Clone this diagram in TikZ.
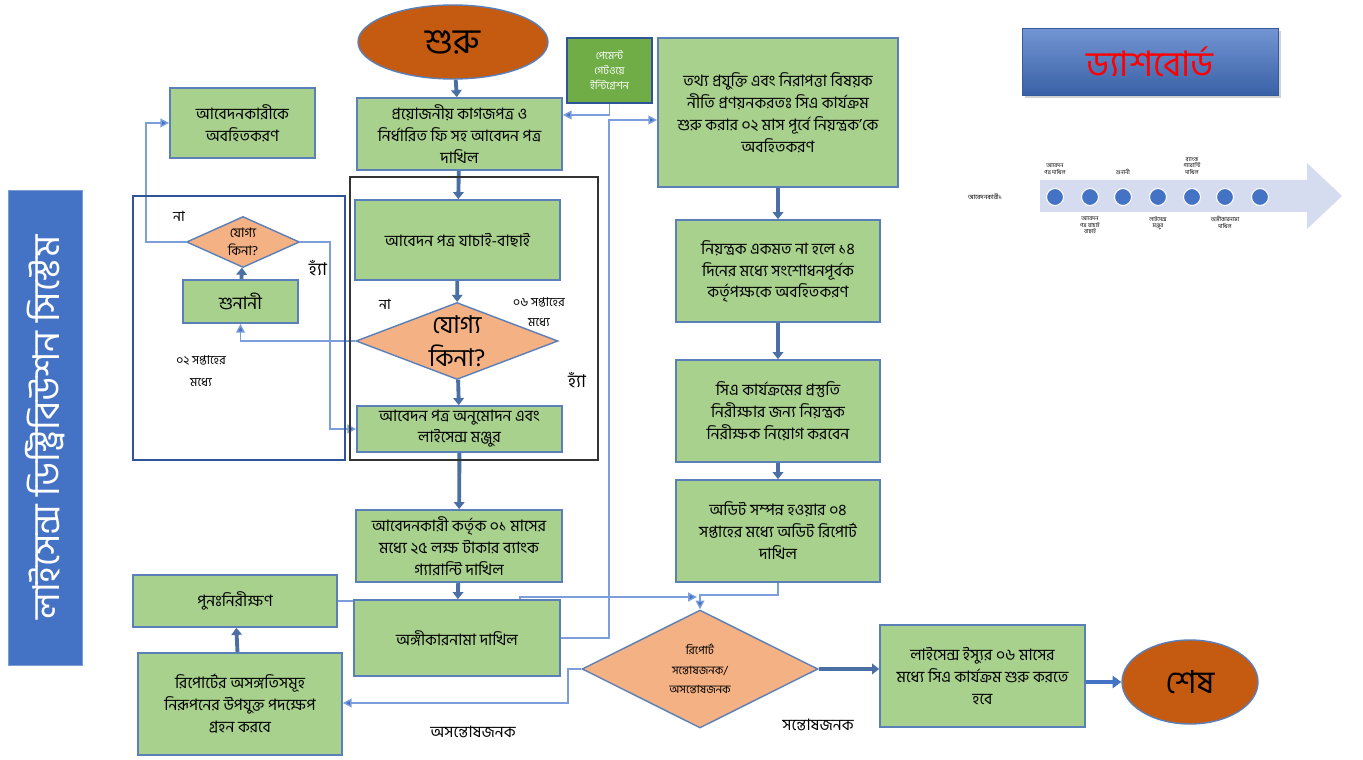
\documentclass[tikz,border=0pt]{standalone}
\usepackage{fontspec}
\setmainfont[Script=Bengali]{Hind Siliguri}
\usetikzlibrary{shapes.geometric,arrows.meta,shadows}
\definecolor{boxgreen}{HTML}{A9D18E}
\definecolor{darkgreen}{HTML}{70AD47}
\definecolor{boxborder}{HTML}{5B7FB8}
\definecolor{diafill}{HTML}{F4B183}
\definecolor{ellfill}{HTML}{C55A11}
\definecolor{thickarrow}{HTML}{4A6FA5}
\definecolor{thinline}{HTML}{7C9FDB}
\definecolor{tipblue}{HTML}{4472C4}
\definecolor{titleblue}{HTML}{4472C4}
\definecolor{outerblue}{HTML}{2F5597}
\definecolor{tlarrow}{HTML}{D6DCEF}
\pgfdeclarelayer{background}
\pgfdeclarelayer{paper}
\pgfsetlayers{paper,background,main}
\tikzset{
  box/.style={draw=boxborder, line width=1pt, fill=boxgreen, align=center, inner sep=2pt,
    font=\fontsize{9}{12.5}\selectfont},
  dia/.style={diamond, draw=boxborder, line width=0.8pt, fill=diafill, inner sep=0pt},
  ell/.style={ellipse, draw=boxborder, line width=0.8pt, fill=ellfill, inner sep=0pt},
  thick arrow/.style={draw=thickarrow, line width=2.2pt, -{Triangle[length=4pt,width=6pt]}},
  thin arrow/.style={draw=thinline, line width=0.8pt, -{Triangle[length=5pt,width=5pt,fill=tipblue]}},
  thin line/.style={draw=thinline, line width=0.8pt},
  lbl/.style={align=center, inner sep=0pt},
  tl/.style={align=center, inner sep=0pt, font=\fontsize{3.2}{3.8}\selectfont},
  dot/.style={circle, fill=tipblue, draw=white, line width=0.6pt, minimum size=0.34cm, inner sep=0pt}
}
\begin{document}
\begin{tikzpicture}[x=0.02cm,y=-0.02cm]
\useasboundingbox (0,0) rectangle (1363,760);
\begin{pgfonlayer}{paper}
\fill[white] (0,0) rectangle (1363,760);
\end{pgfonlayer}

% frames
\draw[outerblue, line width=0.9pt] (133,196) rectangle (345,460);
\draw[black!80, line width=1.1pt] (350,177) rectangle (598,460);

% title bar
\node[draw=titleblue!70, fill=titleblue, rotate=90, minimum width=9.5cm, minimum height=1.48cm,
  text=white, font=\fontsize{21}{24}\selectfont, inner sep=0pt] (vtitle) at (45,427.5) {লাইসেন্স ডিস্ট্রিবিউশন সিস্টেম};

% dashboard
\node[top color=titleblue!75!white, bottom color=titleblue!85!black, draw=titleblue!80!black, line width=0.4pt,
  drop shadow={shadow xshift=1.5pt, shadow yshift=-1.5pt, opacity=0.35},
  minimum width=5.12cm, minimum height=1.34cm, text=red, font=\fontsize{20}{24}\selectfont] (dash) at (1150,61.5) {ড্যাশবোর্ড};

% timeline
\fill[tlarrow] (1040,180) -- (1307,180) -- (1307,163) -- (1342,196) -- (1307,229) -- (1307,212) -- (1040,212) -- cycle;
\node[lbl, font=\fontsize{3.6}{4.2}\selectfont] (tlname) at (985,197) {আবেদনকারী১};
\foreach \i/\x in {1/1055,2/1090,3/1123,4/1158,5/1192,6/1225,7/1260}{
  \node[dot] (d\i) at (\x,197) {};
}
\node[tl, anchor=south] (t1) at (1055,175) {আবেদন\\পত্র দাখিল};
\node[tl, anchor=north] (t2) at (1090,216) {আবেদন\\পত্র যাচাই\\বাছাই};
\node[tl, anchor=south] (t3) at (1123,175) {শুনানী};
\node[tl, anchor=north] (t4) at (1158,216) {লাইসেন্স\\মঞ্জুর};
\node[tl, anchor=south] (t5) at (1192,175) {ব্যাংক\\গ্যারান্টি\\দাখিল};
\node[tl, anchor=north] (t6) at (1225,216) {অঙ্গীকারনামা\\দাখিল};

% main nodes
\node[ell, minimum width=3.8cm, minimum height=1.48cm, font=\fontsize{20}{24}\selectfont] (start) at (453,42) {শুরু};
\node[draw=outerblue, line width=0.9pt, fill=darkgreen, text=white, align=center, inner sep=1pt,
  minimum width=1.7cm, minimum height=1.3cm, font=\fontsize{6}{8.5}\selectfont] (pay) at (609.5,70.5) {পেমেন্ট\\গেটওয়ে\\ইন্টিগ্রেশন};
\node[box, minimum width=4.1cm, minimum height=1.44cm] (docs) at (459.5,134) {প্রয়োজনীয় কাগজপত্র ও\\নির্ধারিত ফি সহ আবেদন পত্র\\দাখিল};
\node[box, minimum width=4.8cm, minimum height=2.98cm] (policy) at (778,112.5) {তথ্য প্রযুক্তি এবং নিরাপত্তা বিষয়ক\\নীতি প্রণয়নকরতঃ  সিএ কার্যক্রম\\শুরু করার ০২ মাস পূর্বে নিয়ন্ত্রক'কে\\অবহিতকরণ};
\node[box, minimum width=2.9cm, minimum height=1.4cm] (notify) at (242.5,123) {আবেদনকারীকে\\অবহিতকরণ};
\node[box, minimum width=4.1cm, minimum height=1.6cm] (verify) at (457.5,240) {আবেদন পত্র যাচাই-বাছাই};
\node[dia, minimum width=4.04cm, minimum height=1.54cm] (bigd) at (457,341) {};
\node[lbl, font=\fontsize{14}{19}\selectfont] (bigdt) at (bigd) {যোগ্য\\কিনা?};
\node[box, minimum width=4.1cm, minimum height=0.92cm, font=\fontsize{9}{11.5}\selectfont] (approve) at (459.5,429) {আবেদন পত্র অনুমোদন এবং\\লাইসেন্স মঞ্জুর};
\node[dia, minimum width=2.26cm, minimum height=1.02cm] (smalld) at (243,242) {};
\node[lbl, font=\fontsize{7.5}{10}\selectfont] (smalldt) at (smalld) {যোগ্য\\কিনা?};
\node[box, minimum width=2.3cm, minimum height=0.86cm, font=\fontsize{10}{12}\selectfont] (hearing) at (240.5,301.5) {শুনানী};
\node[box, minimum width=4.08cm, minimum height=2.04cm] (box2) at (778,271) {নিয়ন্ত্রক একমত না হলে ১৪\\দিনের মধ্যে সংশোধনপূর্বক\\কর্তৃপক্ষকে অবহিতকরণ};
\node[box, minimum width=4.08cm, minimum height=2.04cm] (box3) at (778,411) {সিএ কার্যক্রমের প্রস্তুতি\\নিরীক্ষার জন্য নিয়ন্ত্রক\\নিরীক্ষক নিয়োগ করবেন};
\node[box, minimum width=4.08cm, minimum height=2.04cm] (box4) at (778,531) {অডিট সম্পন্ন হওয়ার ০৪\\সপ্তাহের মধ্যে অডিট রিপোর্ট\\দাখিল};
\node[box, minimum width=4.12cm, minimum height=1.44cm] (bank) at (459,546) {আবেদনকারী কর্তৃক ০১ মাসের\\মধ্যে ২৫ লক্ষ টাকার ব্যাংক\\গ্যারান্টি দাখিল};
\node[box, minimum width=4.12cm, minimum height=1.52cm] (agree) at (457,638) {অঙ্গীকারনামা দাখিল};
\node[box, minimum width=4.08cm, minimum height=1.04cm] (punh) at (235,601) {পুনঃনিরীক্ষণ};
\node[box, minimum width=4.08cm, minimum height=2.04cm] (rep) at (240,704) {রিপোর্টের অসঙ্গতিসমূহ\\নিরূপনের উপযুক্ত পদক্ষেপ\\গ্রহন করবে};
\node[dia, minimum width=4.72cm, minimum height=2.36cm] (repd) at (700,669) {};
\node[lbl, font=\fontsize{6.5}{11}\selectfont] (repdt) at (repd) {রিপোর্ট\\সন্তোষজনক/\\অসন্তোষজনক};
\node[box, minimum width=4.1cm, minimum height=2.04cm] (lic) at (982.5,676) {লাইসেন্স ইস্যুর ০৬ মাসের\\মধ্যে সিএ কার্যক্রম শুরু করতে\\হবে};
\node[ell, minimum width=2.72cm, minimum height=1.68cm, font=\fontsize{18}{22}\selectfont] (end) at (1190,682) {শেষ};

% labels
\node[lbl, font=\fontsize{8}{10}\selectfont] (l1) at (179,216) {না};
\node[lbl, font=\fontsize{10}{12}\selectfont] (l2) at (318,268) {হ্যাঁ};
\node[lbl, font=\fontsize{7}{12.5}\selectfont] (l3) at (201,371) {০২ সপ্তাহের\\মধ্যে};
\node[lbl, font=\fontsize{8}{10}\selectfont] (l4) at (385,304) {না};
\node[lbl, font=\fontsize{7}{11}\selectfont] (l5) at (539,312) {০৬ সপ্তাহের\\মধ্যে};
\node[lbl, font=\fontsize{10}{12}\selectfont] (l6) at (577,380) {হ্যাঁ};
\node[lbl, font=\fontsize{9}{11}\selectfont] (l7) at (473,732) {অসন্তোষজনক};
\node[lbl, font=\fontsize{9}{11}\selectfont] (l8) at (818,725) {সন্তোষজনক};

% connectors
\begin{pgfonlayer}{background}
\draw[thick arrow] (start) -- (docs);
\draw[thick arrow] (docs) -- (verify);
\draw[thick arrow] (verify) -- (bigd);
\draw[thick arrow] (bigd) -- (approve);
\draw[thick arrow] (approve) -- (bank);
\draw[thick arrow] (bank) -- (agree);
\draw[thick arrow] (hearing) -- (smalld);
\draw[thick arrow] (rep) -- (punh);
\draw[thick arrow] (policy) -- (box2);
\draw[thick arrow] (box2) -- (box3);
\draw[thick arrow] (box3) -- (box4);
\draw[thick arrow] (repd.east) -- (repd.east -| lic.west);
\draw[draw=tipblue, line width=2.6pt, -{Triangle[length=5pt,width=7pt]}] (lic.east |- end) -- (end.west);

\draw[thin arrow] (pay.south) |- (docs.east |- 0,115);
\draw[thin arrow] (agree.east) -| (609,120) -- (policy.west |- 0,120);
\draw[thin arrow] (bigd.west) -| (hearing.south);
\draw[thin arrow] (smalld.west) -| (146,123) -- (notify.west);
\draw[thin arrow] (smalld.east) -| (330,429) -- (approve.west);
\draw[thin arrow] (repd.west) -| (568,703) -- (rep.east |- 0,703);
\draw[thin arrow] (punh.east) -| (520,597) -- (697,597);
\draw[thin arrow] (box4.south) |- (700,595) -- (repd.north);
\end{pgfonlayer}
\end{tikzpicture}
\end{document}
